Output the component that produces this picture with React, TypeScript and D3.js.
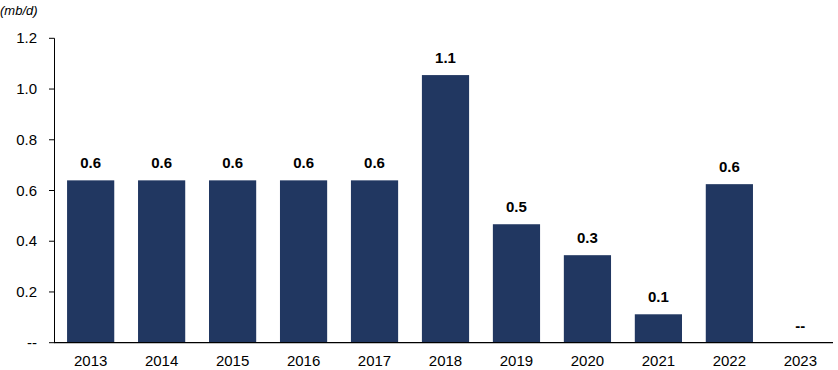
import React from "react";
import * as d3 from "d3";

const years = ["2013", "2014", "2015", "2016", "2017", "2018", "2019", "2020", "2021", "2022", "2023"];
const values: (number | null)[] = [0.64, 0.64, 0.64, 0.64, 0.64, 1.055, 0.467, 0.345, 0.112, 0.625, null];
const yTicks = [0, 0.2, 0.4, 0.6, 0.8, 1.0, 1.2];
const unitLabel = "(mb/d)";

const W = 838;
const H = 370;
const BAR = "#213761";
const FONT = "Arial, 'Liberation Sans', sans-serif";

export default function App() {
  const x = d3.scaleBand<string>().domain(years).range([55, 836]).paddingInner(0.335).paddingOuter(0.17);
  const y = d3.scaleLinear().domain([0, 1.2]).range([342.7, 38.3]);
  const fmt = d3.format(".1f");
  const y0 = y(0);

  return (
    <svg width={W} height={H} style={{ position: "absolute", left: 0, top: 0 }} fontFamily={FONT}>
      <text x={0} y={15} fontSize={13} fontStyle="italic" fill="#000">{unitLabel}</text>
      {/* y axis */}
      <line x1={54.5} x2={54.5} y1={y(1.2)} y2={y0} stroke="#000" strokeWidth={1} />
      {yTicks.map((t) => (
        <g key={t}>
          <line x1={49} x2={54.5} y1={y(t)} y2={y(t)} stroke="#000" strokeWidth={1} />
          <text x={37} y={y(t) + 5} textAnchor="end" fontSize={15} fill="#000">
            {t === 0 ? "--" : d3.format(".1f")(t)}
          </text>
        </g>
      ))}
      {/* bars */}
      {years.map((yr, i) => {
        const v = values[i];
        const bx = x(yr)!;
        const cx = bx + x.bandwidth() / 2;
        return (
          <g key={yr}>
            {v !== null && (
              <rect x={bx} y={y(v)} width={x.bandwidth()} height={y0 - y(v)} fill={BAR} />
            )}
            <text x={cx} y={v !== null ? y(v) - 12 : y0 - 12} textAnchor="middle" fontSize={15} fontWeight="bold" fill="#000">
              {v !== null ? fmt(v) : "--"}
            </text>
            <text x={cx} y={366} textAnchor="middle" fontSize={15} fill="#000">{yr}</text>
          </g>
        );
      })}
      {/* baseline */}
      <line x1={54} x2={833} y1={y0} y2={y0} stroke="#000" strokeWidth={1.3} />
    </svg>
  );
}
